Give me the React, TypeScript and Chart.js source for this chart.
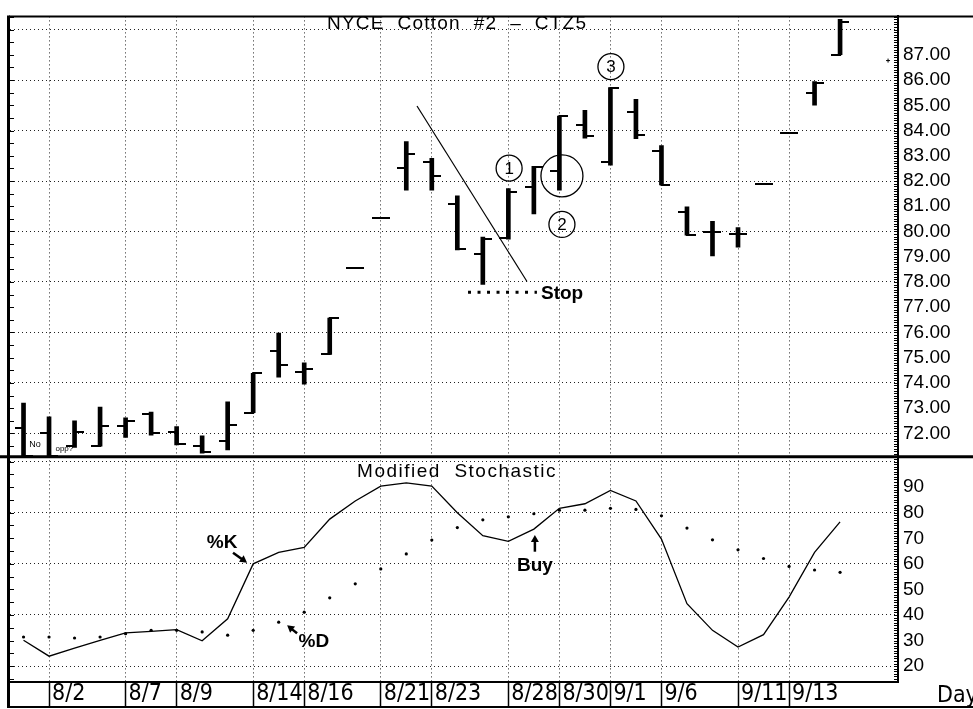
import React, { useEffect, useRef } from 'react';
import { Chart, registerables } from 'chart.js';

Chart.register(...registerables);

// ---------- DATA ----------
const DATES = ['8/1', '8/2', '8/3', '8/4', '8/7', '8/8', '8/9', '8/10', '8/11', '8/14', '8/15', '8/16', '8/17', '8/18', '8/21', '8/22', '8/23', '8/24', '8/25', '8/28', '8/29', '8/30', '8/31', '9/1', '9/5', '9/6', '9/7', '9/8', '9/11', '9/12', '9/13', '9/14', '9/15'];
const TICK_DATES = ['8/2', '8/7', '8/9', '8/14', '8/16', '8/21', '8/23', '8/28', '8/30', '9/1', '9/6', '9/11', '9/13'];

const OPEN = [72.2, 72.0, 71.5, 71.5, 72.3, 72.78, 72.07, 71.5, 71.72, 72.82, 75.28, 74.45, 75.13, 78.56, 80.55, 82.5, 82.74, 81.1, 79.1, 79.75, 81.77, 82.39, 84.2, 82.74, 84.73, 83.2, 80.79, 79.97, 79.9, 81.88, 83.91, 85.5, 87.0];
const HIGH = [73.2, 72.66, 72.5, 73.05, 72.62, 72.85, 72.27, 71.91, 73.25, 74.38, 75.98, 74.8, 76.57, 78.56, 80.55, 83.56, 82.9, 81.41, 79.78, 81.7, 82.58, 84.57, 84.8, 85.7, 85.24, 83.4, 80.98, 80.4, 80.16, 81.88, 83.91, 85.94, 88.4];
const LOW = [71.1, 71.1, 71.45, 71.5, 71.84, 71.93, 71.55, 71.22, 71.35, 72.82, 74.23, 73.95, 75.13, 78.56, 80.55, 81.64, 81.64, 79.27, 77.9, 79.7, 80.7, 81.64, 83.7, 82.63, 83.68, 81.84, 79.85, 79.03, 79.38, 81.88, 83.91, 85.0, 87.0];
const CLOSE = [71.1, 71.1, 72.07, 72.3, 72.48, 72.03, 71.58, 71.25, 72.35, 74.38, 74.73, 74.57, 76.57, 78.56, 80.55, 83.05, 82.2, 79.3, 79.7, 81.55, 82.55, 84.57, 83.78, 85.67, 83.84, 81.84, 79.85, 79.97, 79.9, 81.88, 83.91, 85.87, 88.3];

const PCT_K = [30.1, 23.9, 27.0, 30.1, 33.0, 33.6, 34.3, 29.9, 38.5, 60.0, 64.5, 66.4, 77.5, 84.6, 90.4, 91.7, 90.4, 80.0, 71.0, 68.8, 73.6, 81.7, 83.5, 88.7, 84.6, 69.7, 44.4, 34.0, 27.5, 32.3, 47.0, 64.5, 76.4];
const PCT_D = [31.4, 31.4, 31.0, 31.4, 32.7, 34.0, 34.0, 33.4, 32.1, 34.0, 37.2, 41.1, 46.7, 52.2, 58.0, 63.9, 69.3, 74.2, 77.2, 78.4, 79.6, 81.0, 81.0, 81.7, 81.3, 78.8, 74.0, 69.4, 65.5, 62.1, 59.0, 57.6, 56.7];

const PRICE_LABELS = [72, 73, 74, 75, 76, 77, 78, 79, 80, 81, 82, 83, 84, 85, 86, 87];
const PRICE_GRID = [72, 74, 76, 78, 80, 82, 84, 86, 88];
const STOCH_LABELS = [20, 30, 40, 50, 60, 70, 80, 90];
const STOCH_GRID = [20, 40, 60, 80, 100];

// trend line and stop level (price units)
const TREND_X = [15.42, 19.73];
const TREND_Y = [84.97, 78.02];
const STOP_X = [17.42, 20.12];
const STOP_LEVEL = 77.59;

const TITLE = 'NYCE  Cotton  #2  \u2013  CTZ5';
const SUBTITLE = 'Modified  Stochastic';

// ---------- helpers ----------
function makeTickImage(side: 'left' | 'right') {
  const half = 2;
  const len = 7;
  const c = document.createElement('canvas');
  c.width = 2 * (half + len);
  c.height = 2;
  const g = c.getContext('2d')!;
  g.fillStyle = '#000';
  if (side === 'left') g.fillRect(0, 0, half + len + 1, 2);
  else g.fillRect(half + len - 1, 0, half + len + 1, 2);
  return c;
}

const union = (a: number[], b: number[]) => Array.from(new Set([...a, ...b])).sort((p, q) => p - q);

const AXIS_FONT = { family: '"Liberation Sans", Arial, sans-serif', size: 19 };
const DATE_FONT = { family: '"Liberation Sans Narrow", "Arial Narrow", "DejaVu Sans Condensed", sans-serif', size: 23 };

const decorPlugin = {
  id: 'decor',
  afterDraw(chart: any) {
    const { ctx, chartArea: a, scales } = chart;
    const xs = scales.x, ys = scales.y, y2 = scales.y2;
    const W = chart.width, H = chart.height;
    const X = (v: number) => xs.getPixelForValue(v);
    const Y = (v: number) => ys.getPixelForValue(v);
    const Y2 = (v: number) => y2.getPixelForValue(v);
    ctx.save();
    ctx.strokeStyle = '#000';
    ctx.fillStyle = '#000';

    // minor ticks on right axis and left border
    ctx.lineWidth = 1;
    ctx.beginPath();
    for (let v = Math.ceil(ys.min * 10); v <= Math.floor(ys.max * 10); v++) {
      const p = Math.round(Y(v / 10)) + 0.5;
      ctx.moveTo(a.right - 4, p); ctx.lineTo(a.right, p);
    }
    for (let v = Math.ceil(y2.min); v <= Math.floor(y2.max); v++) {
      const p = Math.round(Y2(v)) + 0.5;
      ctx.moveTo(a.right - 4, p); ctx.lineTo(a.right, p);
    }
    for (let v = Math.ceil(ys.min * 2); v <= Math.floor(ys.max * 2); v++) {
      const p = Math.round(Y(v / 2)) + 0.5;
      ctx.moveTo(a.left, p); ctx.lineTo(a.left + 4, p);
    }
    for (let v = Math.ceil(y2.min / 5); v <= Math.floor(y2.max / 5); v++) {
      const p = Math.round(Y2(v * 5)) + 0.5;
      ctx.moveTo(a.left, p); ctx.lineTo(a.left + 4, p);
    }
    ctx.stroke();

    // frame
    const seg = (x1: number, y1: number, x2: number, y2_: number, w: number) => {
      ctx.lineWidth = w;
      ctx.beginPath(); ctx.moveTo(x1, y1); ctx.lineTo(x2, y2_); ctx.stroke();
    };
    seg(a.left - 1, a.top, W, a.top, 2);
    seg(a.left - 1.5, a.top - 1, a.left - 1.5, H - 1, 3);
    seg(0, ys.bottom + 0.5, W, ys.bottom + 0.5, 3);
    seg(a.left - 3, H - 2, W, H - 2, 2);

    const text = (s: string, px: number, py: number, font: string, align: CanvasTextAlign = 'center', ls = '0px') => {
      ctx.font = font;
      (ctx as any).letterSpacing = ls;
      ctx.textAlign = align;
      ctx.textBaseline = 'middle';
      ctx.fillText(s, px, py);
      (ctx as any).letterSpacing = '0px';
    };
    const circle = (px: number, py: number, r: number) => {
      ctx.lineWidth = 1.3;
      ctx.beginPath(); ctx.arc(px, py, r, 0, Math.PI * 2); ctx.stroke();
    };
    const arrow = (x1: number, y1: number, x2: number, y2_: number) => {
      const ang = Math.atan2(y2_ - y1, x2 - x1);
      const hl = 7, hw = 4;
      ctx.lineWidth = 2.5;
      ctx.beginPath(); ctx.moveTo(x1, y1);
      ctx.lineTo(x2 - Math.cos(ang) * hl * 0.8, y2_ - Math.sin(ang) * hl * 0.8); ctx.stroke();
      ctx.beginPath();
      ctx.moveTo(x2, y2_);
      ctx.lineTo(x2 - Math.cos(ang) * hl - Math.sin(ang) * hw, y2_ - Math.sin(ang) * hl + Math.cos(ang) * hw);
      ctx.lineTo(x2 - Math.cos(ang) * hl + Math.sin(ang) * hw, y2_ - Math.sin(ang) * hl - Math.cos(ang) * hw);
      ctx.closePath(); ctx.fill();
    };

    const sans = '"Liberation Sans", Arial, sans-serif';
    // titles
    text(TITLE, X(16.99), Y(88.24), `19px ${sans}`, 'center', '1.2px');
    text(SUBTITLE, X(16.99), Y2(95.9), `19px ${sans}`, 'center', '1.5px');

    // circled numbers
    const circled = [['1', 19.03, 82.51], ['2', 21.1, 80.28], ['3', 23.02, 86.53]] as const;
    for (const [s, vx, vy] of circled) {
      circle(X(vx), Y(vy), 13);
      text(s, X(vx), Y(vy) + 1, `17px ${sans}`);
    }
    circle(X(21.1), Y(82.2), 21);

    // labels
    text('Stop', X(20.28), Y(STOP_LEVEL) + 1, `bold 19px ${sans}`, 'left');
    text('No', X(0.45), Y(71.57), `9px ${sans}`);
    text('opp?', X(1.6), Y(71.41), `8px ${sans}`);
    text('%K', X(7.78), Y2(68.25), `bold 19px ${sans}`);
    arrow(X(8.21), Y2(64.36), X(8.76), Y2(60.47));
    text('%D', X(11.38), Y2(29.34), `bold 19px ${sans}`);
    arrow(X(10.72), Y2(32.84), X(10.33), Y2(35.95));
    text('Buy', X(20.04), Y2(59.3), `bold 19px ${sans}`);
    arrow(X(20.04), Y2(64.75), X(20.04), Y2(71.3));

    // small marker near axis
    ctx.lineWidth = 1;
    ctx.beginPath();
    ctx.moveTo(X(33.88) - 2, Y(86.77)); ctx.lineTo(X(33.88) + 2, Y(86.77));
    ctx.moveTo(X(33.88), Y(86.77) - 2); ctx.lineTo(X(33.88), Y(86.77) + 2);
    ctx.stroke();

    // axis caption
    ctx.font = `23px "Liberation Sans Narrow", "Arial Narrow", "DejaVu Sans Condensed", sans-serif`;
    ctx.textAlign = 'left';
    ctx.textBaseline = 'middle';
    ctx.fillText('Day', a.right + 39, a.bottom + 14);

    ctx.restore();
  },
};

export default function App() {
  const ref = useRef<HTMLCanvasElement>(null);

  useEffect(() => {
    const openImg = makeTickImage('left');
    const closeImg = makeTickImage('right');
    const idx = DATES.map((_, i) => i);

    const priceTicks = union(PRICE_LABELS, PRICE_GRID);
    const stochTicks = union(STOCH_LABELS, STOCH_GRID);

    const chart = new Chart(ref.current!, {
      type: 'bar',
      data: {
        datasets: [
          {
            type: 'bar',
            data: idx.map((i) => ({ x: i, y: [LOW[i], HIGH[i]] })) as any,
            yAxisID: 'y',
            backgroundColor: '#000',
            borderWidth: 0,
            barThickness: 4,
            grouped: false,
          } as any,
          {
            type: 'scatter',
            data: idx.map((i) => ({ x: i, y: OPEN[i] })),
            yAxisID: 'y',
            pointStyle: openImg,
            pointRadius: 3,
          } as any,
          {
            type: 'scatter',
            data: idx.map((i) => ({ x: i, y: CLOSE[i] })),
            yAxisID: 'y',
            pointStyle: closeImg,
            pointRadius: 3,
          } as any,
          {
            type: 'line',
            data: TREND_X.map((x, i) => ({ x, y: TREND_Y[i] })),
            yAxisID: 'y',
            borderColor: '#000',
            borderWidth: 1.2,
            pointRadius: 0,
          } as any,
          {
            type: 'line',
            data: STOP_X.map((x) => ({ x, y: STOP_LEVEL })),
            yAxisID: 'y',
            borderColor: '#000',
            borderWidth: 3,
            borderDash: [3, 6.5],
            pointRadius: 0,
          } as any,
          {
            type: 'line',
            data: idx.map((i) => ({ x: i, y: PCT_K[i] })),
            yAxisID: 'y2',
            borderColor: '#000',
            borderWidth: 1.3,
            pointRadius: 0,
            tension: 0,
          } as any,
          {
            type: 'scatter',
            data: idx.map((i) => ({ x: i, y: PCT_D[i] })),
            yAxisID: 'y2',
            pointStyle: 'circle',
            pointRadius: 1.6,
            backgroundColor: '#000',
            borderWidth: 0,
          } as any,
        ],
      },
      options: {
        animation: false,
        responsive: false,
        devicePixelRatio: 1,
        events: [],
        layout: { padding: { left: 10, top: 7, right: 0, bottom: 0 } },
        plugins: { legend: { display: false }, tooltip: { enabled: false }, title: { display: false } },
        scales: {
          x: {
            type: 'linear',
            position: 'bottom',
            min: -0.53,
            max: 34.27,
            offset: false,
            afterBuildTicks: (s: any) => {
              s.ticks = TICK_DATES.map((d) => ({ value: DATES.indexOf(d) }));
            },
            afterFit: (s: any) => {
              s.height = 27;
            },
            ticks: {
              autoSkip: false,
              maxRotation: 0,
              minRotation: 0,
              align: 'start',
              padding: -27,
              labelOffset: 3,
              color: '#000',
              font: DATE_FONT,
              callback: (v: any) => DATES[v as number],
            },
            grid: {
              offset: false,
              color: '#222',
              lineWidth: 1,
              drawTicks: true,
              tickLength: 25,
              tickColor: '#000',
              tickWidth: 1.5,
              tickBorderDash: [],
            },
            border: { display: true, color: '#000', width: 2, dash: [1, 3] },
          } as any,
          y: {
            type: 'linear',
            position: 'right',
            stack: 'panels',
            stackWeight: 446,
            min: 71.1,
            max: 88.52,
            afterBuildTicks: (s: any) => {
              s.ticks = priceTicks.map((v) => ({ value: v }));
            },
            afterFit: (s: any) => {
              s.width = 75;
            },
            ticks: {
              autoSkip: false,
              color: '#000',
              padding: 5,
              font: AXIS_FONT,
              callback: (v: any) => (PRICE_LABELS.includes(v) ? Number(v).toFixed(2) : ''),
            },
            grid: {
              drawTicks: false,
              lineWidth: 1,
              color: (c: any) => (c.tick && PRICE_GRID.includes(c.tick.value) ? '#222' : 'rgba(0,0,0,0)'),
            },
            border: { display: true, color: '#000', width: 2, dash: [1, 3] },
          } as any,
          y2: {
            type: 'linear',
            position: 'right',
            stack: 'panels',
            stackWeight: 229,
            min: 13.8,
            max: 102.1,
            afterBuildTicks: (s: any) => {
              s.ticks = stochTicks.map((v) => ({ value: v }));
            },
            afterFit: (s: any) => {
              s.width = 75;
            },
            ticks: {
              autoSkip: false,
              color: '#000',
              padding: 5,
              font: AXIS_FONT,
              callback: (v: any) => (STOCH_LABELS.includes(v) ? String(v) : ''),
            },
            grid: {
              drawTicks: false,
              lineWidth: 1,
              color: (c: any) => (c.tick && STOCH_GRID.includes(c.tick.value) ? '#222' : 'rgba(0,0,0,0)'),
            },
            border: { display: true, color: '#000', width: 2, dash: [1, 3] },
          } as any,
        },
      } as any,
      plugins: [decorPlugin],
    });
    return () => chart.destroy();
  }, []);

  return (
    <div style={{ position: 'absolute', left: 0, top: 0, width: 973, height: 709, background: '#fff' }}>
      <canvas ref={ref} width={973} height={709} style={{ display: 'block', width: 973, height: 709 }} />
    </div>
  );
}
